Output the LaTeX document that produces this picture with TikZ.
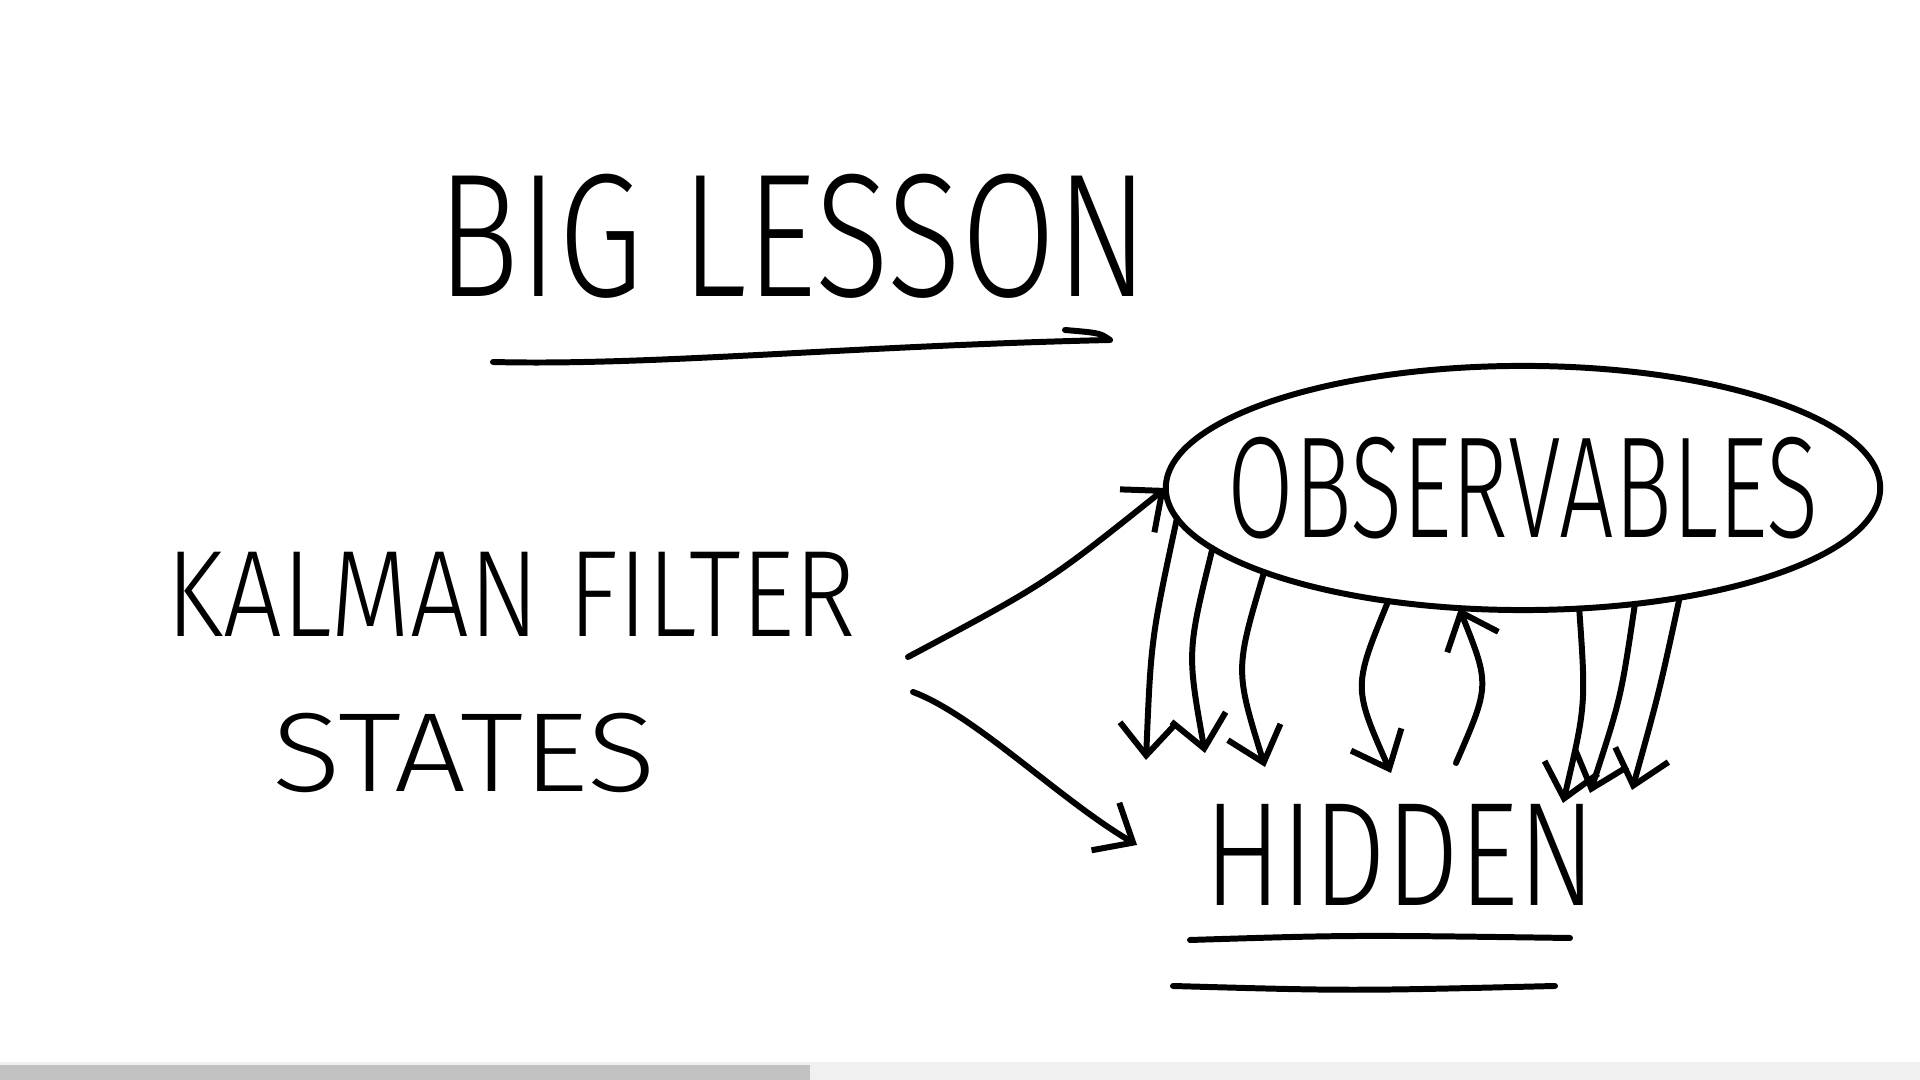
\documentclass[tikz,border=0pt]{standalone}
\usepackage{fontspec}
\newfontfamily\handfont{Fira Sans Light}
\usetikzlibrary{arrows.meta,shapes.geometric}

\tikzset{
  pen/.style={line width=1.7pt, line cap=round, line join=round},
  barb/.style={pen, -{Straight Barb[length=3.2mm,width=5.5mm]}},
  hand/.style={inner sep=2pt, outer sep=0pt},
}
\newcommand{\squeeze}[2]{\scalebox{#1}[1]{#2}}
\newcommand{\handsize}[1]{\handfont\fontsize{#1}{#1}\selectfont}

\begin{document}
\begin{tikzpicture}[x=0.01cm, y=-0.01cm]
  \useasboundingbox (0,0) rectangle (1920,1080);
  % player bar at the bottom
  \fill[black!6] (0,1062) rectangle (1920,1080);
  \fill[black!24] (0,1065) rectangle (810,1080);

  % title
  \node[hand, font=\handsize{50}] (title) at (793,236) {\squeeze{0.78}{BIG LESSON}};
  \draw[pen] (493,362) .. controls (650,366) and (850,346) .. (1110,340)
    .. controls (1100,333) .. (1065,330);

  % left side
  \node[hand, font=\handsize{35}] (kf) at (511,594) {\squeeze{0.845}{KALMAN FILTER}};
  \node[hand, font=\handsize{32}] (states) at (464,753) {\squeeze{1.13}{STATES}};
  \coordinate (src1) at (908,657);
  \coordinate (src2) at (913,692);

  % right side
  \node[hand, draw, pen, ellipse, minimum width=7.14cm, minimum height=2.44cm,
        inner xsep=-0.5cm, inner ysep=0pt, font=\handsize{41}] (obs) at (1523,488)
        {\squeeze{0.67}{OBSERVABLES}};
  \node[hand, font=\handsize{42}] (hid) at (1400,855) {\squeeze{0.78}{HIDDEN}};
  \draw[pen] (1190,940) .. controls (1350,935) .. (1570,938);
  \draw[pen] (1173,986) .. controls (1350,991) .. (1555,986);

  % states split in two
  \draw[barb] (src1) .. controls (1047,583) .. (obs.west);
  \draw[barb] (src2) .. controls (975,715) and (1060,800) .. ([xshift=-6mm, yshift=1mm]hid.west);

  % observables down to hidden
  \foreach \ang/\cx/\cy/\ex/\ey in {185/1151/639/1146/760, 191.7/1187/652/1205/753,
      198.7/1235/670/1265/767, 220.4/1353/687/1391/773, 295.8/1586/705/1563/803,
      314.5/1621/698/1590/793, 325.4/1659/693/1632/790}
    \draw[barb] (obs.\ang) .. controls (\cx,\cy) .. (\ex,\ey);
  % one going back up
  \coordinate (up) at (1456,763);
  \draw[barb] (up) .. controls (1490,685) .. (obs.242.7);
\end{tikzpicture}
\end{document}
